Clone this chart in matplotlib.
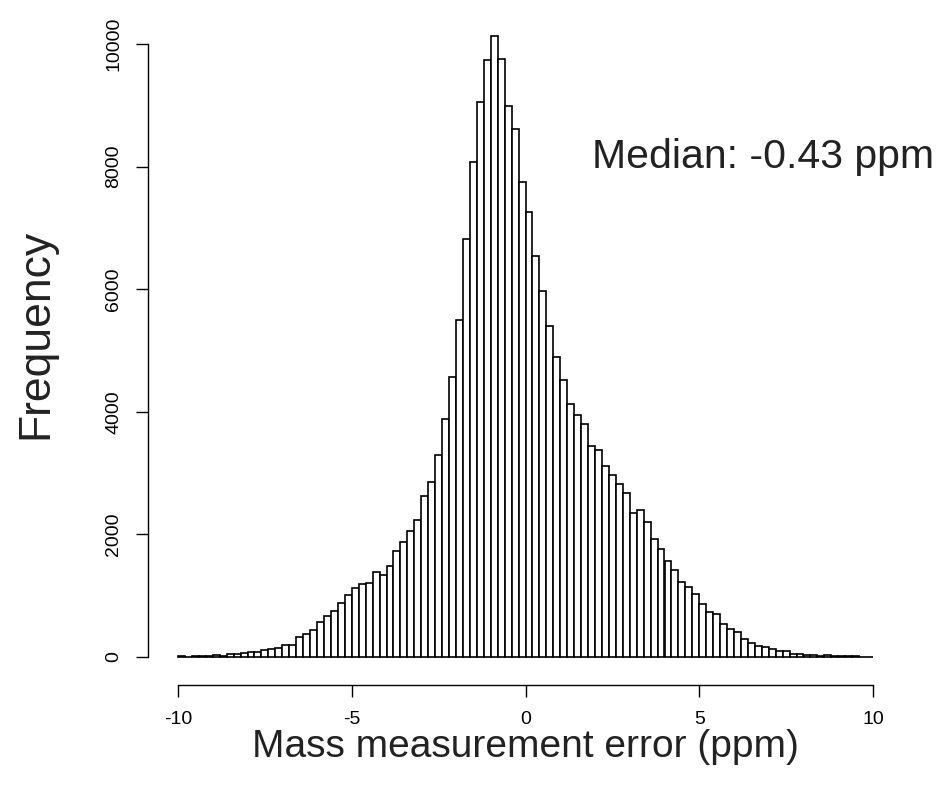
"""Histogram of mass measurement error, R base-graphics look."""
import numpy as np
import matplotlib
matplotlib.use('Agg')
import matplotlib.pyplot as plt

plt.rcParams['font.family'] = ['Liberation Sans', 'DejaVu Sans']

# ── Data: 100 bins of 0.2 ppm from -10 to 10 ────────────────────────────────
bin_edges = np.linspace(-10, 10, 101)
counts = [
    16, 5, 12, 12, 12, 38, 16, 45, 45, 65,
    82, 82, 109, 136, 152, 196, 196, 332, 375, 440,
    576, 663, 750, 878, 1014, 1126, 1191, 1213, 1392, 1343,
    1479, 1724, 1876, 2055, 2235, 2632, 2850, 3295, 3888, 4570,
    5497, 6819, 8080, 9054, 9739, 10136, 9761, 8984, 8613, 7750,
    7259, 6536, 5976, 5405, 4900, 4519, 4122, 3948, 3796, 3437,
    3372, 3111, 2974, 2822, 2680, 2354, 2398, 2202, 1930, 1757,
    1558, 1425, 1221, 1137, 1022, 870, 739, 696, 544, 452,
    408, 299, 234, 185, 163, 136, 92, 92, 54, 54,
    27, 27, 10, 40, 15, 15, 12, 12, 8, 3,
]
x_ticks = [-10, -5, 0, 5, 10]
y_ticks = [0, 2000, 4000, 6000, 8000, 10000]
median_label = 'Median: -0.43 ppm'

W, H = 952, 799
fig = plt.figure(figsize=(W / 100, H / 100), dpi=100)
fig.patch.set_facecolor('white')

# plot region in pixels (R style: axes lines sit on the region edge)
L, R, B, T = 148, 901, 685, 10
ax = fig.add_axes([L / W, 1 - B / H, (R - L) / W, (B - T) / H])

ax.bar(bin_edges[:-1], counts, width=np.diff(bin_edges), align='edge',
       facecolor='white', edgecolor='black', linewidth=1.2)

# -10 -> px 178, 10 -> px 873 ; 0 count -> px 657, 10000 -> px 44
ppx = 695 / 20.0
ax.set_xlim(-10 - (178 - L) / ppx, 10 + (R - 873) / ppx)
cpx = 613 / 10000.0
ax.set_ylim(-(B - 657) / cpx, (657 - T) / cpx)

for s in ['top', 'right']:
    ax.spines[s].set_visible(False)
ax.spines['left'].set_bounds(0, 10000)
ax.spines['bottom'].set_bounds(-10, 10)
for s in ['left', 'bottom']:
    ax.spines[s].set_linewidth(1.0)

ax.set_xticks(x_ticks)
ax.set_xticklabels([str(v) for v in x_ticks])
ax.set_yticks(y_ticks)
ax.set_yticklabels([str(v) for v in y_ticks], rotation=90, va='center')
ax.tick_params(axis='both', direction='out', length=8.5, width=1.0,
               labelsize=14, colors='black')
ax.tick_params(axis='x', pad=10)
ax.tick_params(axis='y', pad=10)

# annotation text may run past the plot region, as in R
ax.text(1.9, 7980, median_label, ha='left', va='baseline',
        fontsize=29.5, color='#222222', clip_on=False)

fig.text(525 / W, 1 - 747 / H, 'Mass measurement error (ppm)',
         ha='center', va='center', fontsize=28, color='#222222')
fig.text(36 / W, 1 - 334 / H, 'Frequency', rotation=90,
         ha='center', va='center', fontsize=32, color='#222222')

fig.savefig('out.png', dpi=100, facecolor='white')
